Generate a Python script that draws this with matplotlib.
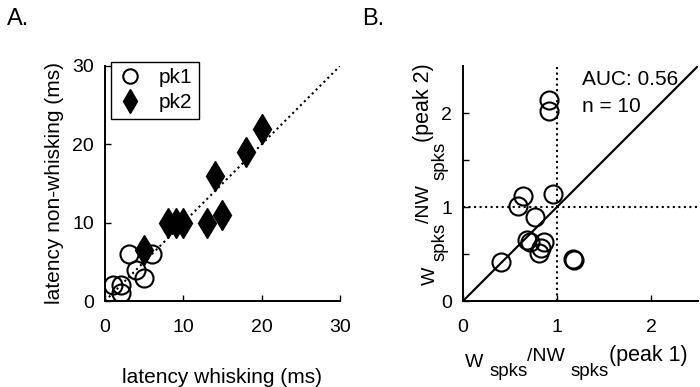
import numpy as np
import matplotlib
matplotlib.use("Agg")
import matplotlib.pyplot as plt

plt.rcParams['font.family'] = ['Liberation Sans', 'DejaVu Sans']
plt.rcParams['font.size'] = 14

# panel A: response latencies (ms)
pk1_whisk = [1, 2, 2, 3, 4, 5, 6]
pk1_nonwhisk = [2, 2, 1, 6, 4, 3, 6]
pk2_whisk = [5, 8, 9, 10, 13, 14, 15, 18, 20]
pk2_nonwhisk = [6.5, 10, 10, 10, 10, 16, 11, 19, 22]

# panel B: W/NW spike ratios
ratio_peak1 = [0.91, 0.92, 0.96, 0.64, 0.59, 0.77, 0.68, 0.71, 0.86, 0.83, 0.81, 0.40, 1.17, 1.18]
ratio_peak2 = [2.14, 2.02, 1.14, 1.12, 1.01, 0.89, 0.65, 0.63, 0.63, 0.56, 0.51, 0.42, 0.45, 0.44]
auc = 0.56
n_cells = 10


def style(ax):
    for s in ['top', 'right']:
        ax.spines[s].set_visible(False)
    for s in ['left', 'bottom']:
        ax.spines[s].set_linewidth(1.4)
    ax.tick_params(direction='in', length=4, width=1, labelsize=14)
    ax.tick_params(axis='x', pad=13)
    ax.tick_params(axis='y', pad=8)


def tex_label(ax, x, y, peak, vertical=False):
    # matlab-style W_spks/NW_spks^(peak n), pieces chained one after another
    pieces = [('W ', 0, 14), ('spks', -6.5, 13.5), ('/NW ', 10.5, 14),
              ('spks', -10.5, 13.5), ('(peak %d)' % peak, 10, 15.5)]
    rot = 90 if vertical else 0
    prev = ax.text(x, y, pieces[0][0], fontsize=pieces[0][2], transform=ax.transAxes,
                   ha='left', va='baseline', rotation=rot, rotation_mode='anchor')
    for txt, shift, size in pieces[1:]:
        if vertical:
            xy, off = (1, 1), (-shift, 0)
        else:
            xy, off = (1, 0), (0, shift)
        prev = ax.annotate(txt, xy=xy, xycoords=prev, xytext=off,
                           textcoords='offset points', fontsize=size,
                           ha='left', va='bottom', rotation=rot,
                           rotation_mode='anchor', annotation_clip=False)


fig = plt.figure(figsize=(7, 3.87), dpi=100)
W, H = 700., 387.

axA = fig.add_axes([105/W, 86/H, 235/W, 235/H])
axA.plot([0, 30], [0, 30], ':', color='k', lw=1.5)
axA.plot(pk1_whisk, pk1_nonwhisk, 'o', mfc='none', mec='k', mew=1.5, ms=13, label='pk1')
axA.plot(pk2_whisk, pk2_nonwhisk, 'd', mfc='k', mec='k', ms=15, label='pk2')
axA.set_xlim(0, 30)
axA.set_ylim(0, 30)
axA.set_xticks([0, 10, 20, 30])
axA.set_yticks([0, 10, 20, 30])
style(axA)
axA.set_xlabel('latency whisking (ms)', fontsize=15)
axA.set_ylabel('latency non-whisking (ms)', fontsize=15)
axA.xaxis.set_label_coords(0.5, -0.285)
axA.yaxis.set_label_coords(-0.175, 0.5)
leg = axA.legend(loc='upper left', bbox_to_anchor=(111/W, 1 - 62/H),
                 bbox_transform=fig.transFigure, borderaxespad=0,
                 fancybox=False, edgecolor='k', framealpha=1, markerscale=0.8,
                 handlelength=1.2, handletextpad=0.8, borderpad=0.3, labelspacing=0.3,
                 fontsize=15)
leg.get_frame().set_linewidth(1)

axB = fig.add_axes([463/W, 86/H, 235/W, 235/H])
axB.plot([0, 2.5], [0, 2.5], '-', color='k', lw=1.5)
axB.plot([1, 1], [0, 2.5], ':', color='k', lw=1.5)
axB.plot([0, 2.5], [1, 1], ':', color='k', lw=1.5)
axB.plot(ratio_peak1, ratio_peak2, 'o', mfc='none', mec='k', mew=1.5, ms=13)
axB.set_xlim(0, 2.5)
axB.set_ylim(0, 2.5)
axB.set_xticks([0, 1, 2])
axB.set_yticks([0, 0.5, 1, 1.5, 2])
axB.set_yticklabels(['0', '', '1', '', '2'])
style(axB)
axB.text(1.265, 2.30, 'AUC: %.2f' % auc, fontsize=15, ha='left', va='baseline')
axB.text(1.265, 2.01, 'n = %d' % n_cells, fontsize=15, ha='left', va='baseline')
tex_label(axB, 0.01, -0.28, 1)
tex_label(axB, -0.119, 0.068, 2, vertical=True)

fig.text(7/W, 1 - 8/H, 'A.', fontsize=17, ha='left', va='top')
fig.text(362/W, 1 - 8/H, 'B.', fontsize=17, ha='left', va='top')

fig.savefig('out.png', dpi=100)
